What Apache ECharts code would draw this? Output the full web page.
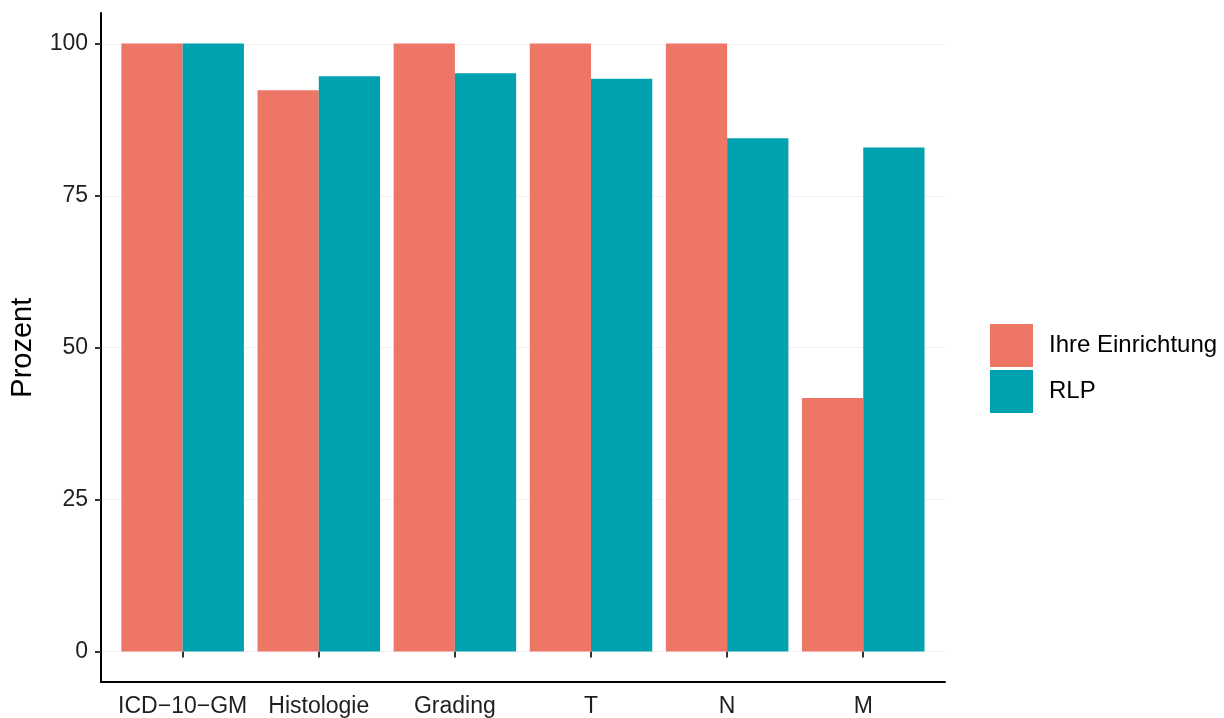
<!DOCTYPE html>
<html>
<head>
<meta charset="utf-8">
<script src="https://cdn.jsdelivr.net/npm/echarts@6/dist/echarts.min.js"></script>
<style>
html,body{margin:0;padding:0;background:#fff;}
#chart{width:1224px;height:718px;}
</style>
</head>
<body>
<div id="chart"></div>
<script>
const categories = ['ICD\u221210\u2212GM', 'Histologie', 'Grading', 'T', 'N', 'M'];
const seriesNames = ['Ihre Einrichtung', 'RLP'];
const ihreEinrichtung = [100, 92.3, 100, 100, 100, 41.7];
const rlp = [100, 94.6, 95.1, 94.2, 84.4, 82.9];
const yTicks = [0, 25, 50, 75, 100];
const colors = ['#ED7666', '#00A2B0'];

const FONT = '"Liberation Sans", Arial, Helvetica, sans-serif';
const chart = echarts.init(document.getElementById('chart'), null, {renderer: 'canvas'});

const option = {
  animation: false,
  backgroundColor: '#ffffff',
  textStyle: {fontFamily: FONT},
  grid: [
    // 0: y labels, ticks, gridlines (0..100)
    {left: 101, right: 279, top: 43.8, bottom: 66.4},
    // 1: bars (category band)
    {left: 114.6, right: 292.7, top: 13, bottom: 36},
    // 2: outer frame axis lines
    {left: 101, right: 279, top: 13, bottom: 36}
  ],
  xAxis: [
    {gridIndex: 0, type: 'value', min: 0, max: 1, show: false},
    {gridIndex: 1, type: 'category', data: categories,
     axisLine: {show: false},
     axisTick: {show: true, alignWithLabel: true, length: 6, lineStyle: {color: '#333333', width: 2}},
     axisLabel: {margin: 13, fontSize: 23, color: '#1F1F1F', fontFamily: FONT, interval: 0},
     splitLine: {show: false}},
    {gridIndex: 2, type: 'value', min: 0, max: 1,
     axisLine: {show: true, onZero: false, lineStyle: {color: '#000000', width: 2}},
     axisTick: {show: false}, axisLabel: {show: false}, splitLine: {show: false}}
  ],
  yAxis: [
    {gridIndex: 0, type: 'value', min: 0, max: 100, interval: 25,
     name: 'Prozent', nameLocation: 'middle', nameGap: 64, nameRotate: 90,
     nameTextStyle: {fontSize: 29, color: '#000000', fontFamily: FONT},
     axisLine: {show: false},
     axisTick: {show: true, length: 6, lineStyle: {color: '#333333', width: 2}},
     axisLabel: {margin: 13, fontSize: 23, color: '#1F1F1F', fontFamily: FONT,
                 formatter: v => yTicks.indexOf(v) >= 0 ? String(v) : ''},
     splitLine: {show: true, lineStyle: {color: '#F0F0F0', width: 1}}},
    {gridIndex: 1, type: 'value', min: -5, max: 105, show: false},
    {gridIndex: 2, type: 'value', min: 0, max: 1,
     axisLine: {show: true, onZero: false, lineStyle: {color: '#000000', width: 2}},
     axisTick: {show: false}, axisLabel: {show: false}, splitLine: {show: false}}
  ],
  legend: {
    orient: 'vertical', left: 985, top: 319,
    itemWidth: 43, itemHeight: 43, itemGap: 3,
    icon: 'rect',
    data: seriesNames,
    textStyle: {fontSize: 24, color: '#000000', fontFamily: FONT, padding: [6, 0, 0, 11]}
  },
  series: [
    {name: seriesNames[0], type: 'bar', xAxisIndex: 1, yAxisIndex: 1,
     data: ihreEinrichtung, barWidth: '45%', barGap: '0%',
     itemStyle: {color: colors[0]}},
    {name: seriesNames[1], type: 'bar', xAxisIndex: 1, yAxisIndex: 1,
     data: rlp, barWidth: '45%', barGap: '0%',
     itemStyle: {color: colors[1]}}
  ]
};
chart.setOption(option);
</script>
</body>
</html>
